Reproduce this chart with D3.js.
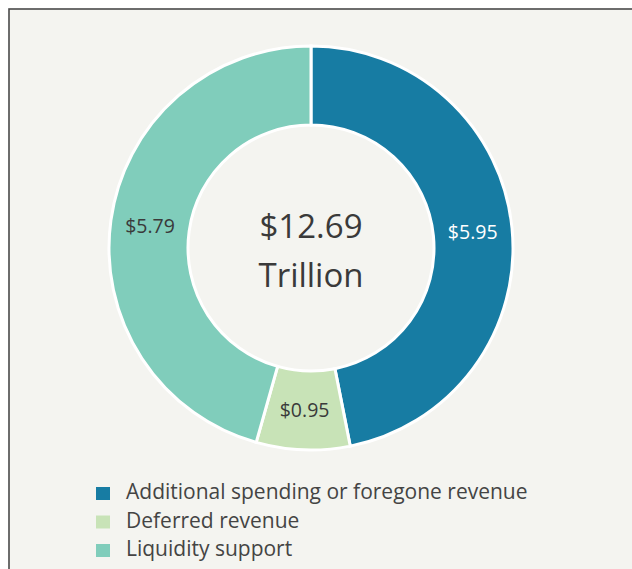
<!DOCTYPE html>
<html><head><meta charset="utf-8">
<script src="https://cdn.jsdelivr.net/npm/d3@7"></script>
<style>
html,body{margin:0;padding:0;background:#fff;}
svg{display:block;}
text{font-family:"Open Sans","Noto Sans",sans-serif;}
</style></head>
<body>
<svg id="chart" width="632" height="569"></svg>
<script>
const categories = ["Additional spending or foregone revenue", "Deferred revenue", "Liquidity support"];
const values = [5.95, 0.95, 5.79];
const valueLabels = ["$5.95", "$0.95", "$5.79"];
const colors = ["#177ca3", "#c8e3b7", "#80cdbb"];
const labelColors = ["#ffffff", "#3a3a3a", "#3a3a3a"];
const centerLines = ["$12.69", "Trillion"];

const svg = d3.select("#chart");
svg.append("rect").attr("x", 9).attr("y", 9).attr("width", 640).attr("height", 580)
  .attr("fill", "#f4f4f0").attr("stroke", "#4a4a4a").attr("stroke-width", 1.6);

const cx = 311, cy = 248, outerR = 202, innerR = 123;
const g = svg.append("g").attr("transform", `translate(${cx},${cy})`);
const pie = d3.pie().sort(null).value(d => d);
const arcs = pie(values);
const arc = d3.arc().innerRadius(innerR).outerRadius(outerR);
const labelArc = d3.arc().innerRadius((innerR + outerR) / 2).outerRadius((innerR + outerR) / 2);

g.selectAll("path.slice").data(arcs).join("path")
  .attr("class", "slice")
  .attr("d", arc)
  .attr("fill", (d, i) => colors[i])
  .attr("stroke", "#ffffff").attr("stroke-width", 3).attr("stroke-linejoin", "miter");

g.selectAll("text.val").data(arcs).join("text")
  .attr("class", "val")
  .attr("transform", d => `translate(${labelArc.centroid(d)})`)
  .attr("text-anchor", "middle").attr("dy", "0.36em")
  .attr("font-size", 19.5)
  .attr("fill", (d, i) => labelColors[i])
  .text((d, i) => valueLabels[i]);

g.selectAll("text.center").data(centerLines).join("text")
  .attr("class", "center")
  .attr("text-anchor", "middle")
  .attr("y", (d, i) => i === 0 ? -10 : 39)
  .attr("font-size", 33)
  .attr("fill", "#3a3a3a")
  .text(d => d);

const legend = svg.append("g").attr("transform", "translate(96,484)");
const rows = legend.selectAll("g").data(categories).join("g")
  .attr("transform", (d, i) => `translate(0,${i * 28.5})`);
rows.append("rect").attr("x", 0).attr("y", 3).attr("width", 14).attr("height", 13)
  .attr("fill", (d, i) => colors[i]);
rows.append("text").attr("x", 30).attr("y", 15).attr("font-size", 21)
  .attr("fill", "#444").text(d => d);
</script>
</body></html>
